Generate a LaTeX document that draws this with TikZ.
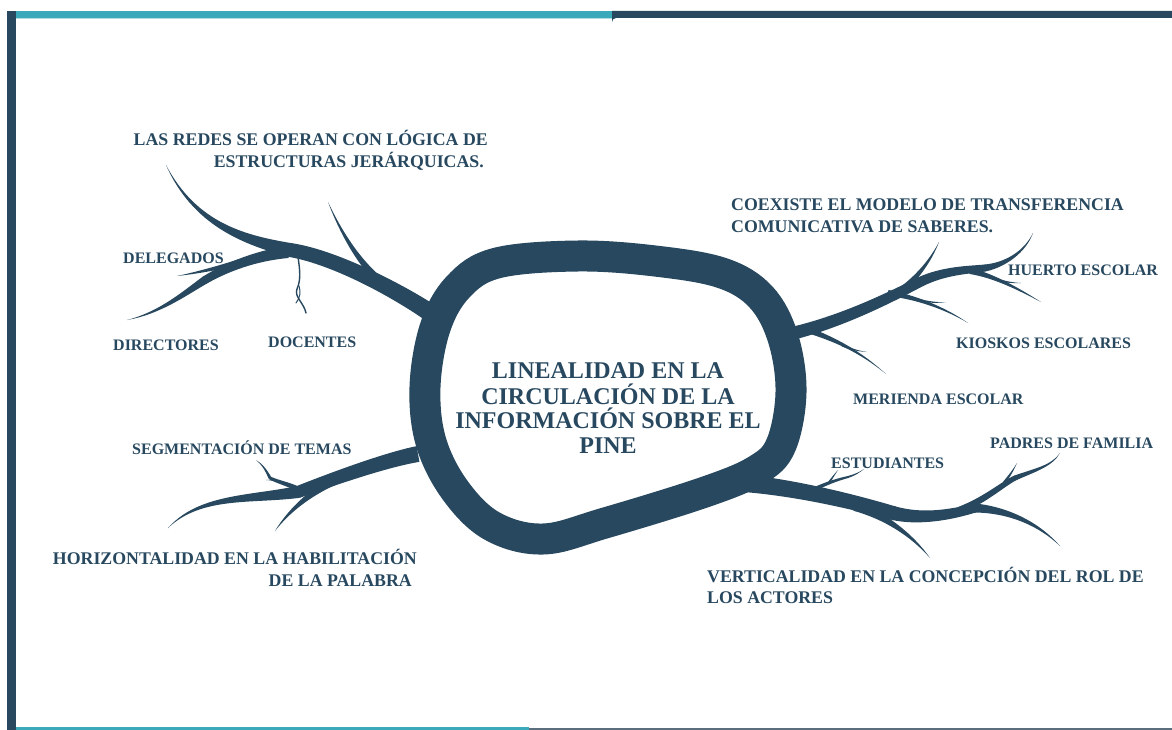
\documentclass[tikz,border=0pt]{standalone}
\usepackage{fontspec}
\setmainfont{Liberation Serif}
\usetikzlibrary{calc}
\definecolor{navy}{RGB}{39,72,95}
\definecolor{tealbar}{RGB}{58,170,186}
\definecolor{greyline}{RGB}{90,110,125}
% tapered branch segment: start, control1, control2, end, start half-width, end half-width
\newcommand\seg[6]{%
 \pgfmathsetmacro\wa{(2*#5+#6)/3}%
 \pgfmathsetmacro\wb{(#5+2*#6)/3}%
 \fill[navy] ($(#1)!#5pt!90:(#2)$) .. controls ($(#2)!\wa pt!-90:(#1)$) and ($(#3)!\wb pt!90:(#4)$) .. ($(#4)!#6pt!-90:(#3)$) -- ($(#4)!#6pt!90:(#3)$) .. controls ($(#3)!\wb pt!-90:(#4)$) and ($(#2)!\wa pt!90:(#1)$) .. ($(#1)!#5pt!-90:(#2)$) -- cycle;%
 \fill[navy] (#4) circle (#6pt);}
\tikzset{
 lab/.style={text=navy, inner sep=0pt, font=\bfseries\fontsize{16}{18}\selectfont},
 head/.style={text=navy, inner sep=0pt, font=\bfseries\fontsize{17.8}{20}\selectfont},
 ctr/.style={text=navy, inner sep=0pt, font=\bfseries\fontsize{24}{26}\selectfont},
 twig/.style={navy, line width=1.4pt, line cap=round}
}
\begin{document}
\begin{tikzpicture}[x=1pt,y=-1pt]
\useasboundingbox (0,0) rectangle (1172,730);
\fill[white] (0,0) rectangle (1172,730);
% frame
\fill[tealbar] (16,11) rectangle (612,18);
\fill[tealbar!40] (16,18) rectangle (612,19);
\fill[navy] (616,11) -- (1172,11) -- (1172,18) -- (616,18) arc (270:180:4 and 4) -- (612,11) -- cycle;
\fill[navy] (7,11) rectangle (16,730);
\fill[tealbar] (16,727) rectangle (529,729.5);
\fill[greyline] (529,728) rectangle (1172,729.5);

% central ring
\draw[navy, line width=31pt] plot[smooth cycle, tension=0.6] coordinates {
 (425,387) (435,328) (458,287) (497,263) (578,256) (655,261) (722,273)
 (761,297) (783,338) (791,392) (781,445) (757,470) (705,492) (605,523)
 (543,539) (492,526) (455,490) (431,442)};

% upper-left branch
\seg{432,314}{400,292}{335,257}{290,250}{9}{7}
\seg{290,250}{245,240}{195,225}{166,165}{7}{0}
\seg{388,288}{362,268}{342,235}{328,202}{4.5}{0}
\seg{288,252}{262,255}{232,264}{205,280}{6}{4}
\seg{205,280}{185,293}{160,313}{127,320}{4}{0}
\seg{240,262}{218,268}{196,273}{177,276}{3}{0}
\draw[twig] (298,257) .. controls (300,270) and (301,280) .. (297,289) .. controls (294,297) and (304,303) .. (306,313);
\draw[twig, line width=1pt] (299,286) .. controls (301,292) and (300,298) .. (296,303);

% upper-right branch
\seg{790,334}{840,322}{885,300}{920,282}{6.5}{5}
\seg{920,282}{945,270}{970,270}{985,268}{5}{3.5}
\seg{985,268}{1005,265}{1025,252}{1033,233}{3.5}{0}
\seg{893,297}{914,282}{930,262}{939,242}{4}{0}
\seg{970,271}{995,276}{1020,290}{1041,302}{3}{0}
\seg{998,280}{1006,282}{1013,283}{1021,283}{1.2}{0}
\seg{888,293}{915,297}{945,308}{968,323}{3}{0}
\seg{918,300}{928,302}{937,303}{946,302}{1.3}{0}
\seg{808,330}{835,340}{858,350}{886,374}{3}{0}
\seg{842,345}{850,349}{858,351}{867,352}{1.3}{0}

% lower-right branch
\seg{728,482}{780,485}{840,498}{893,513}{9}{7}
\seg{893,513}{920,520}{950,515}{975,508}{7}{4.5}
\seg{975,508}{1010,510}{1040,525}{1060,546}{4.5}{0}
\seg{960,510}{985,500}{1003,484}{1015,478}{3.5}{2.5}
\seg{1015,478}{1035,470}{1052,466}{1060,453}{2.5}{0}
\seg{1004,483}{1010,475}{1014,469}{1017,463}{1.5}{0}
\seg{855,506}{885,516}{912,535}{930,558}{5}{0}
\seg{815,489}{825,484}{836,480}{848,477}{2}{1}
\seg{848,477}{855,475}{860,472}{864,469}{1}{0}
\seg{828,484}{832,478}{835,474}{838,470}{1.2}{0}

% lower-left branch
\seg{418,454}{385,460}{330,480}{298,492}{8}{6}
\seg{298,492}{250,500}{200,495}{168,528}{6}{0}
\seg{335,480}{308,494}{288,512}{275,531}{4.5}{0}
\seg{298,489}{288,484}{278,482}{270,478}{2.5}{1.5}
\seg{270,478}{266,470}{262,464}{256,460}{1.5}{0}
\seg{280,482}{275,480}{270,480}{266,480}{1}{0}

% central text
\node[ctr, anchor=base] (c1) at (608,378) {LINEALIDAD EN LA};
\node[ctr, anchor=base] (c2) at (608,404) {CIRCULACIÓN DE LA};
\node[ctr, anchor=base] (c3) at (608,428) {INFORMACIÓN SOBRE EL};
\node[ctr, anchor=base] (c4) at (608,453) {PINE};

% headings
\node[head, anchor=base east] (h1a) at (488,146) {LAS REDES SE OPERAN CON LÓGICA DE};
\node[head, anchor=base east] (h1b) at (484,168) {ESTRUCTURAS JERÁRQUICAS.};
\node[head, anchor=base west] (h2a) at (731,211) {COEXISTE EL MODELO DE TRANSFERENCIA};
\node[head, anchor=base west] (h2b) at (731,232) {COMUNICATIVA DE SABERES.};
\node[head, anchor=base west] (h3a) at (707,582) {VERTICALIDAD EN LA CONCEPCIÓN DEL ROL DE};
\node[head, anchor=base west] (h3b) at (707,603) {LOS ACTORES};
\node[head, anchor=base east] (h4a) at (417,564) {HORIZONTALIDAD EN LA HABILITACIÓN};
\node[head, anchor=base east] (h4b) at (412,586) {DE LA PALABRA};

% labels
\node[lab, anchor=base west] (l1) at (123,263) {DELEGADOS};
\node[lab, anchor=base west] (l2) at (113,350) {DIRECTORES};
\node[lab, anchor=base west] (l3) at (268,347) {DOCENTES};
\node[lab, anchor=base west] (l4) at (1008,275) {HUERTO ESCOLAR};
\node[lab, anchor=base west] (l5) at (956,348) {KIOSKOS ESCOLARES};
\node[lab, anchor=base west] (l6) at (853,404) {MERIENDA ESCOLAR};
\node[lab, anchor=base west] (l7) at (990,448) {PADRES DE FAMILIA};
\node[lab, anchor=base west] (l8) at (831,468) {ESTUDIANTES};
\node[lab, anchor=base west] (l9) at (132,454) {SEGMENTACIÓN DE TEMAS};
\end{tikzpicture}
\end{document}
